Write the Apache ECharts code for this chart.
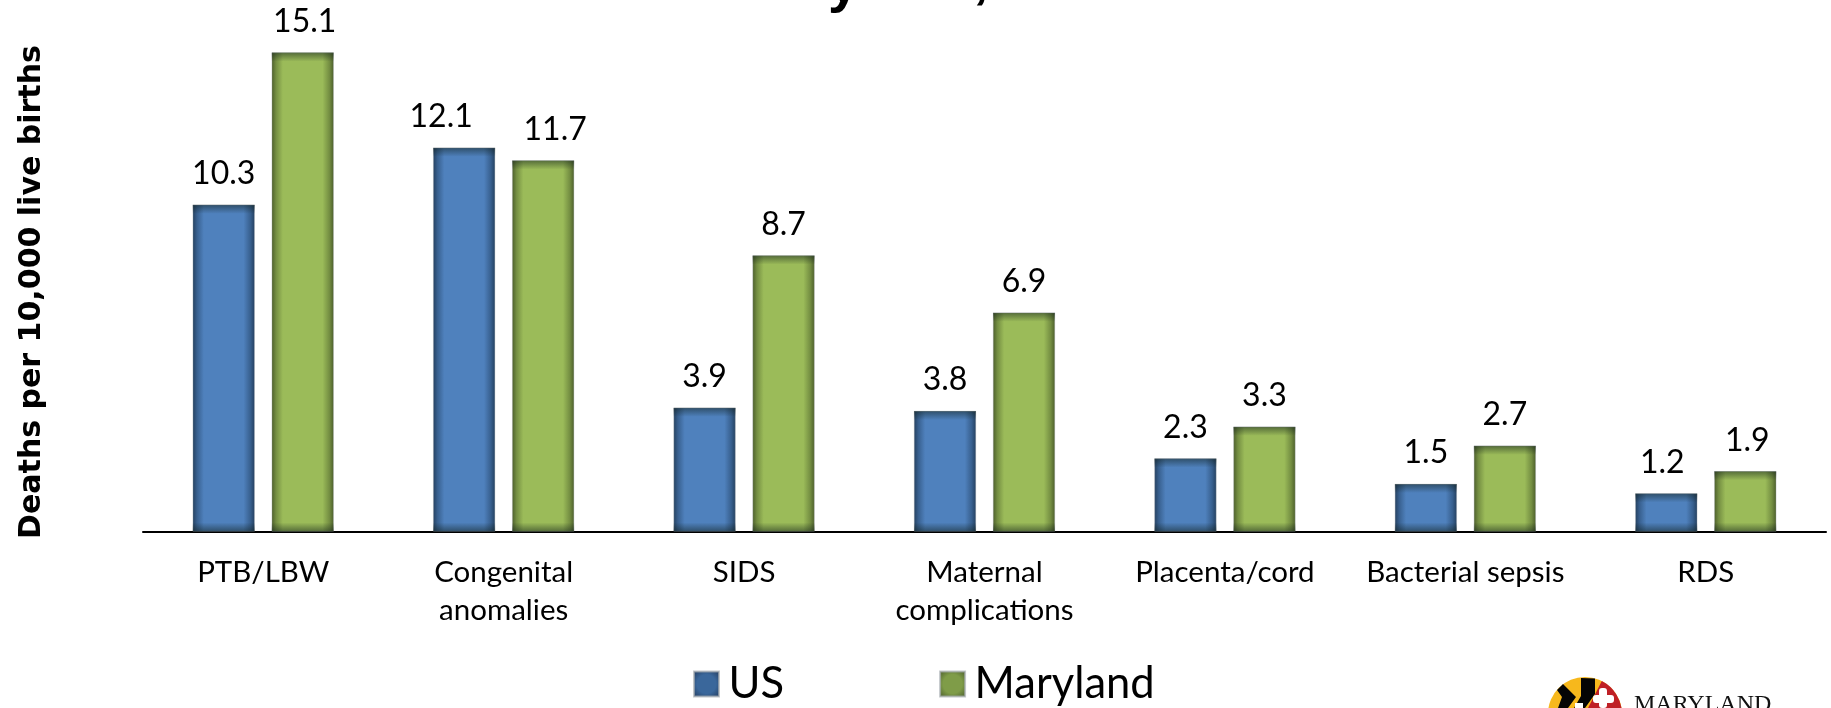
<!DOCTYPE html>
<html>
<head>
<meta charset="utf-8">
<style>
  html, body { margin: 0; padding: 0; background: #fff; }
  #chart { width: 1831px; height: 708px; }
</style>
<script src="https://cdn.jsdelivr.net/npm/echarts@6/dist/echarts.min.js"></script>
</head>
<body>
<div id="chart"></div>
<script>
const categories = ['PTB/LBW', 'Congenital\nanomalies', 'SIDS', 'Maternal\ncomplications', 'Placenta/cord', 'Bacterial sepsis', 'RDS']
const usValues = [10.3, 12.1, 3.9, 3.8, 2.3, 1.5, 1.2]
const marylandValues = [15.1, 11.7, 8.7, 6.9, 3.3, 2.7, 1.9]

const labelFont = 'Lato'
const barWidth = 62
const barGapPx = 17

// 柱子两侧的内阴影
function barFill(edge, soft, mid) {
  return {
    type: 'linear', x: 0, y: 0, x2: 1, y2: 0,
    colorStops: [
      { offset: 0, color: edge },
      { offset: 0.07, color: soft },
      { offset: 0.18, color: mid },
      { offset: 0.82, color: mid },
      { offset: 0.93, color: soft },
      { offset: 1, color: edge }
    ]
  }
}

function legendFill(edge, mid) {
  return {
    type: 'radial', x: 0.5, y: 0.5, r: 0.7,
    colorStops: [
      { offset: 0, color: mid },
      { offset: 0.5, color: mid },
      { offset: 1, color: edge }
    ]
  }
}

function barSeries(name, values, fill, labelShift) {
  return {
    name: name,
    type: 'bar',
    data: values.map((v, i) => ({
      value: v,
      label: labelShift[i] ? { offset: [labelShift[i], 0] } : undefined
    })),
    barWidth: barWidth,
    barGap: (barGapPx / barWidth * 100) + '%',
    itemStyle: { color: fill, borderColor: 'rgba(170,175,180,0.7)', borderWidth: 0.5 },
    label: {
      show: true,
      position: 'top',
      distance: 15,
      color: '#000',
      fontFamily: labelFont,
      fontSize: 32,
      formatter: p => p.value.toFixed(1)
    }
  }
}

// 柱子上下边的阴影，叠加在柱子上面
function shadeSeries(values, side) {
  return {
    type: 'custom',
    silent: true,
    z: 5,
    data: values.map((v, i) => [i, v]),
    encode: { x: 0, y: 1 },
    renderItem: function (params, api) {
      const top = api.coord([api.value(0), api.value(1)])
      const base = api.coord([api.value(0), 0])
      const x = top[0] + side * (barWidth + barGapPx) / 2 - barWidth / 2
      const depth = 9
      const rect = (y, fromTop) => ({
        type: 'rect',
        shape: { x: x, y: y, width: barWidth, height: depth },
        style: {
          fill: {
            type: 'linear', x: 0, y: 0, x2: 0, y2: 1,
            colorStops: [
              { offset: 0, color: fromTop ? 'rgba(15,30,25,0.5)' : 'rgba(15,30,25,0)' },
              { offset: 1, color: fromTop ? 'rgba(15,30,25,0)' : 'rgba(15,30,25,0.5)' }
            ]
          }
        }
      })
      return { type: 'group', children: [rect(top[1], true), rect(base[1] - depth, false)] }
    }
  }
}

const chart = echarts.init(document.getElementById('chart'), null, { renderer: 'canvas' })

chart.setOption({
  animation: false,
  backgroundColor: '#fff',
  grid: { left: 143, right: 5, top: 52.6, bottom: 176.5 },
  legend: {
    left: 688,
    top: 657,
    itemWidth: 25,
    itemHeight: 25,
    itemGap: 155,
    icon: 'rect',
    textStyle: { color: '#000', fontFamily: labelFont, fontSize: 43.5, padding: [0, 0, 0, 4.5] },
    data: [
      { name: 'US', itemStyle: { color: legendFill('#22395a', '#3a679b') } },
      { name: 'Maryland', itemStyle: { color: legendFill('#47582a', '#7f9c48') } }
    ]
  },
  xAxis: {
    type: 'category',
    data: categories,
    axisTick: { show: false },
    axisLine: { lineStyle: { color: '#000', width: 2 } },
    axisLabel: {
      color: '#000',
      fontFamily: labelFont,
      fontSize: 29.5,
      lineHeight: 38,
      margin: 22,
      interval: 0
    }
  },
  yAxis: {
    type: 'value',
    min: 0,
    max: 15.1,
    show: true,
    axisLine: { show: false },
    axisTick: { show: false },
    axisLabel: { show: false },
    splitLine: { show: false },
    name: 'Deaths per 10,000 live births',
    nameLocation: 'middle',
    nameRotate: 90,
    nameGap: 96,
    nameTextStyle: { color: '#000', fontFamily: 'DejaVu Sans', fontWeight: 'bold', fontSize: 30 }
  },
  series: [
    barSeries('US', usValues, barFill('#24405f', '#38608f', '#4f81bd'), [0, -23, 0, 0, 0, 0, -4]),
    barSeries('Maryland', marylandValues, barFill('#4c5e2b', '#748e42', '#9bbb59'), [2, 12, 0, 0, 0, 0, 2]),
    shadeSeries(usValues, -1),
    shadeSeries(marylandValues, 1)
  ],
  graphic: [
    // 被裁掉的标题残留
    { type: 'text', left: 828, top: -42, style: { text: 'y', fill: '#000', font: 'bold 56px "Liberation Sans"' } },
    { type: 'text', left: 973, top: -46, style: { text: ',', fill: '#000', font: 'bold 56px "Liberation Sans"' } },
    // 右下角的校徽
    { type: 'circle', shape: { cx: 1585, cy: 714, r: 37 }, style: { fill: '#f7b81c' } },
    { type: 'polygon', shape: { points: [[1581, 678], [1595, 678.5], [1595, 694], [1585, 708], [1574, 708], [1581, 696]] }, style: { fill: '#050505' } },
    { type: 'sector', shape: { cx: 1585, cy: 714, r: 37, startAngle: -1.1, endAngle: 0 }, style: { fill: '#bf2026' } },
    { type: 'polygon', shape: { points: [[1563, 684], [1576, 697], [1568, 708], [1558, 708], [1562, 697], [1557, 690]] }, style: { fill: '#050505' } },
    { type: 'rect', shape: { x: 1599, y: 688, width: 8, height: 20, r: 3 }, style: { fill: '#fff' } },
    { type: 'rect', shape: { x: 1593, y: 695, width: 21, height: 8, r: 3 }, style: { fill: '#fff' } },
    { type: 'rect', shape: { x: 1575, y: 703, width: 8, height: 5 }, style: { fill: '#fff' } },
    { type: 'text', left: 1634, top: 693, style: { text: 'MARYLAND', fill: '#111', font: '24px "Liberation Serif"' } }
  ]
})
</script>
</body>
</html>
